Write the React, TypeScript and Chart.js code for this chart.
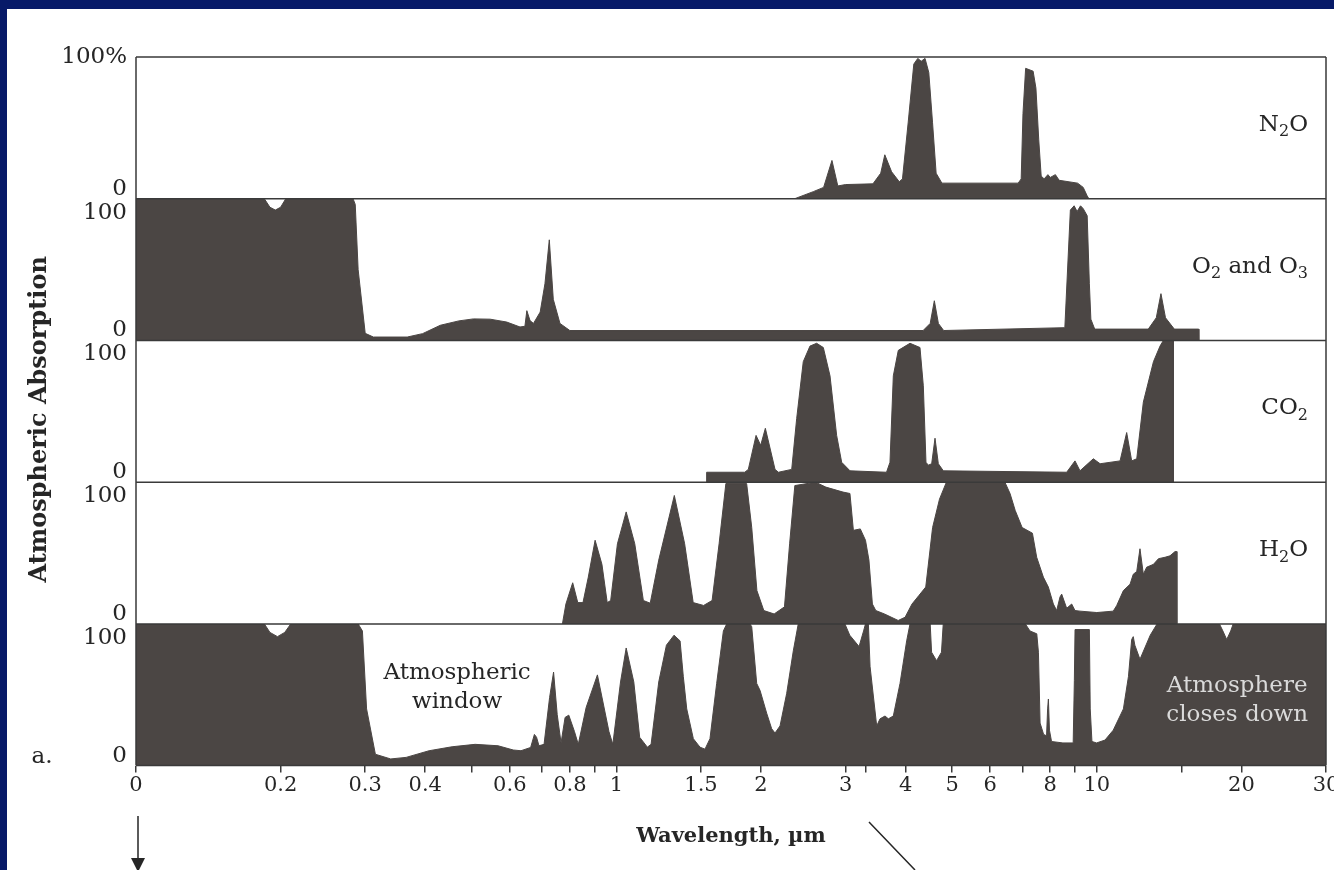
import React, { useEffect, useRef } from 'react';
import { Chart, registerables } from 'chart.js';

Chart.register(...registerables);

// ---------- x axis (wavelength, µm; logarithmic) ----------
const TICK_VALUES = [0.1, 0.2, 0.3, 0.4, 0.5, 0.6, 0.7, 0.8, 0.9, 1, 1.5, 2, 3, 3.3, 4, 5, 6, 7, 8, 9, 10, 15, 20, 30];
const TICK_LABELS = ['0', '0.2', '0.3', '0.4', '', '0.6', '', '0.8', '', '1', '1.5', '2', '3', '', '4', '5', '6', '', '8', '', '10', '', '20', '30'];

// ---------- N2O ----------
const N2O_WL = [2.35, 2.57, 2.7, 2.81, 2.89, 3.0, 3.42, 3.55, 3.62, 3.74, 3.88, 3.94, 4.05, 4.16, 4.24, 4.31, 4.39, 4.47, 4.55, 4.63, 4.76, 6.86, 6.96, 7.02, 7.11, 7.37, 7.47, 7.57, 7.66, 7.77, 7.91, 8.0, 8.2, 8.35, 9.12, 9.37, 9.55, 9.63];
const N2O_ABS = [0, 5, 8, 27, 9, 10, 10.5, 18, 31, 19, 12, 14, 54, 95, 99, 97, 99, 89, 54, 18, 11, 11, 14, 60, 92, 90, 78, 42, 16, 14, 17, 15, 17, 13, 11, 8, 2, 0];

// ---------- O2 and O3 ----------
const O3_WL = [0.1, 0.185, 0.19, 0.195, 0.2, 0.205, 0.283, 0.286, 0.29, 0.3, 0.312, 0.367, 0.395, 0.43, 0.47, 0.504, 0.546, 0.591, 0.63, 0.645, 0.651, 0.661, 0.672, 0.694, 0.71, 0.725, 0.739, 0.763, 0.8, 4.35, 4.5, 4.59, 4.68, 4.8, 8.58, 8.81, 8.97, 9.1, 9.25, 9.37, 9.55, 9.65, 9.72, 9.9, 12.8, 13.3, 13.6, 13.9, 14.5, 16.3, 16.31];
const O3_ABS = [100, 100, 94, 92, 94, 100, 100, 96, 50, 5, 2.4, 2.4, 4.8, 10.7, 13.8, 15.2, 15, 13, 9.5, 10, 21, 14, 12, 20, 40, 71, 29, 12, 7, 7, 12, 28, 12, 7, 9, 92, 95, 91, 95, 93, 88, 40, 15, 8, 8, 16, 33, 16, 8, 8, 0];

// ---------- CO2 ----------
const CO2_WL = [1.54, 1.541, 1.85, 1.882, 1.953, 1.997, 2.042, 2.139, 2.174, 2.317, 2.373, 2.449, 2.529, 2.611, 2.696, 2.784, 2.874, 2.944, 3.064, 3.65, 3.711, 3.771, 3.862, 4.085, 4.285, 4.354, 4.41, 4.46, 4.532, 4.605, 4.679, 4.792, 8.656, 9.008, 9.226, 9.835, 10.16, 11.18, 11.54, 11.82, 12.11, 12.5, 13.12, 13.54, 13.76, 14.31, 14.43, 14.44];
const CO2_ABS = [0, 7, 7, 9, 33, 26, 38, 9, 7, 9, 45, 85, 96, 98, 95, 75, 33, 14, 8, 7, 14, 75, 93, 98, 95, 68, 14, 12, 13, 31, 13, 8, 7, 15, 8, 16.5, 13, 15, 35, 15, 16.5, 56.5, 85, 96, 100, 100, 100, 0];

// ---------- H2O ----------
const H2O_WL = [0.772, 0.785, 0.811, 0.831, 0.852, 0.874, 0.903, 0.933, 0.957, 0.973, 1.005, 1.048, 1.092, 1.138, 1.176, 1.225, 1.32, 1.387, 1.445, 1.519, 1.582, 1.636, 1.69, 1.867, 1.913, 1.961, 2.027, 2.13, 2.238, 2.294, 2.352, 2.597, 2.729, 2.963, 3.063, 3.114, 3.219, 3.3, 3.355, 3.411, 3.467, 3.614, 3.86, 3.99, 4.124, 4.262, 4.405, 4.552, 4.705, 4.863, 6.437, 6.598, 6.764, 6.991, 7.345, 7.497, 7.74, 7.928, 8.12, 8.251, 8.384, 8.451, 8.656, 8.866, 9.008, 9.226, 10.0, 10.82, 11.0, 11.36, 11.73, 11.91, 12.11, 12.3, 12.5, 12.7, 13.12, 13.44, 13.87, 14.2, 14.55, 14.67, 14.68];
const H2O_ABS = [0, 14, 29, 15, 15, 33, 59, 42, 15, 16.5, 56.5, 79, 56.5, 16.5, 14.6, 45, 90.6, 56.5, 15, 13, 16.5, 56.5, 99, 99, 68, 23.5, 9.4, 7, 12, 56.5, 97.6, 100, 96.5, 93, 92, 66, 67, 59, 45, 14, 9.4, 7, 2.4, 4.7, 14, 20, 26, 68, 88, 100, 100, 92, 80, 68, 64, 47, 33, 26, 14, 9.4, 19, 21, 11, 14, 9.4, 9, 8, 9, 12.9, 23.5, 28, 35, 37, 53, 35, 40, 42, 46, 47, 48, 51, 51, 0];

// ---------- Total atmosphere ----------
const TOTAL_WL = [0.1, 0.185, 0.19, 0.197, 0.204, 0.21, 0.29, 0.296, 0.302, 0.315, 0.339, 0.365, 0.4075, 0.455, 0.508, 0.567, 0.61, 0.633, 0.663, 0.675, 0.682, 0.69, 0.707, 0.726, 0.74, 0.753, 0.767, 0.782, 0.796, 0.818, 0.833, 0.865, 0.913, 0.965, 0.983, 1.02, 1.048, 1.087, 1.118, 1.16, 1.181, 1.225, 1.271, 1.318, 1.357, 1.378, 1.401, 1.446, 1.493, 1.529, 1.566, 1.617, 1.67, 1.697, 1.897, 1.913, 1.959, 1.991, 2.055, 2.105, 2.139, 2.191, 2.262, 2.335, 2.391, 2.99, 3.06, 3.2, 3.27, 3.3, 3.346, 3.373, 3.482, 3.538, 3.624, 3.682, 3.771, 3.894, 4.02, 4.085, 4.5, 4.53, 4.64, 4.75, 4.79, 7.1, 7.26, 7.5, 7.56, 7.62, 7.75, 7.86, 7.9, 7.93, 7.97, 8.05, 8.5, 8.93, 8.98, 9.01, 9.65, 9.69, 9.77, 9.99, 10.4, 10.82, 11.36, 11.64, 11.82, 11.91, 12.0, 12.3, 12.92, 13.35, 18.0, 18.3, 18.64, 19.0, 19.23, 30];
const TOTAL_ABS = [100, 100, 94, 91, 94, 100, 100, 95, 40, 8, 4.7, 5.8, 10.5, 13.3, 15, 14, 11, 10.5, 12.8, 22, 20, 14, 15, 48, 66, 36, 16, 34, 35.6, 24, 15, 41, 64, 24, 15, 59, 83, 59, 20, 13, 15, 59, 85, 92, 88, 63, 40, 19, 13, 11.6, 19, 58, 95, 100, 100, 98, 58, 53, 37, 26, 23, 28, 51, 81, 100, 100, 92, 84, 95, 100, 100, 70, 28, 33, 35, 33, 35, 58, 88, 100, 100, 80, 74, 80, 100, 100, 95, 93, 80, 30, 22, 21, 40, 47, 25, 17, 16, 16, 60, 96, 96, 40, 17, 16, 18, 25, 40, 63, 89, 91, 85, 75, 92, 100, 100, 95, 89, 95, 100, 100];

// ---------- styling ----------
const NAVY = '#071a68';
const FILL = '#4b4644';
const INK = '#262626';
const FRAME = '#3a3a3a';
const SERIF = '"DejaVu Serif", "Liberation Serif", serif';

type Part = [string, boolean];

const PANEL_IDS = ['yN2O', 'yO3', 'yCO2', 'yH2O', 'yAll'];
const PANEL_NAMES: Part[][] = [
  [['N', false], ['2', true], ['O', false]],
  [['O', false], ['2', true], [' and O', false], ['3', true]],
  [['CO', false], ['2', true]],
  [['H', false], ['2', true], ['O', false]],
  [],
];

function series(wl: number[], abs: number[]) {
  return wl.map((x, i) => ({ x, y: abs[i] }));
}

function drawFormula(ctx: CanvasRenderingContext2D, parts: Part[], right: number, y: number, size: number) {
  const main = `${size}px ${SERIF}`;
  const sub = `${Math.round(size * 0.7)}px ${SERIF}`;
  let total = 0;
  parts.forEach(([t, s]) => {
    ctx.font = s ? sub : main;
    total += ctx.measureText(t).width;
  });
  let x = right - total;
  ctx.textAlign = 'left';
  ctx.textBaseline = 'middle';
  parts.forEach(([t, s]) => {
    ctx.font = s ? sub : main;
    ctx.fillText(t, x, s ? y + size * 0.32 : y);
    x += ctx.measureText(t).width;
  });
}

const overlay = {
  id: 'overlay',
  beforeDraw(chart: any) {
    const { ctx, width, height } = chart;
    ctx.save();
    ctx.fillStyle = NAVY;
    ctx.fillRect(0, 0, width, height);
    ctx.fillStyle = '#ffffff';
    ctx.fillRect(7, 9, width - 7, height - 9);
    ctx.restore();
  },
  afterDatasetsDraw(chart: any) {
    const { ctx, chartArea: a } = chart;
    ctx.save();
    ctx.strokeStyle = FRAME;
    ctx.lineWidth = 1.5;
    ctx.beginPath();
    PANEL_IDS.forEach((id) => {
      const s = chart.scales[id];
      const y = s.getPixelForValue(100);
      ctx.moveTo(a.left, y);
      ctx.lineTo(a.right, y);
    });
    ctx.moveTo(a.left, a.bottom);
    ctx.lineTo(a.right, a.bottom);
    ctx.moveTo(a.left, a.top);
    ctx.lineTo(a.left, a.bottom);
    ctx.moveTo(a.right, a.top);
    ctx.lineTo(a.right, a.bottom);
    ctx.stroke();
    ctx.restore();
  },
  afterDraw(chart: any) {
    const { ctx, chartArea: a } = chart;
    const xs = chart.scales.x;
    const all = chart.scales.yAll;
    ctx.save();
    ctx.fillStyle = INK;

    // y tick labels of each panel
    ctx.font = `23px ${SERIF}`;
    ctx.textAlign = 'right';
    ctx.textBaseline = 'middle';
    PANEL_IDS.forEach((id, i) => {
      const s = chart.scales[id];
      const top = s.getPixelForValue(100);
      const bot = s.getPixelForValue(0);
      ctx.fillText(i === 0 ? '100%' : '100', a.left - 9, i === 0 ? top : top + 14);
      ctx.fillText('0', a.left - 9, bot - 10);
    });

    // gas names
    PANEL_IDS.forEach((id, i) => {
      const parts = PANEL_NAMES[i];
      if (!parts.length) return;
      const s = chart.scales[id];
      const mid = (s.getPixelForValue(100) + s.getPixelForValue(0)) / 2;
      ctx.fillStyle = INK;
      drawFormula(ctx, parts, a.right - 18, mid - 3, 23);
    });

    // annotations in the total panel
    ctx.textAlign = 'center';
    ctx.textBaseline = 'middle';
    ctx.font = `23px ${SERIF}`;
    ctx.fillStyle = INK;
    const wx = xs.getPixelForValue(0.466);
    ctx.fillText('Atmospheric', wx, all.getPixelForValue(65));
    ctx.fillText('window', wx, all.getPixelForValue(45));
    ctx.fillStyle = '#dadada';
    const cx = xs.getPixelForValue(19.6);
    ctx.fillText('Atmosphere', cx, all.getPixelForValue(56));
    ctx.fillText('closes down', cx, all.getPixelForValue(36));

    // y-axis title
    ctx.fillStyle = INK;
    ctx.font = `bold 24px ${SERIF}`;
    ctx.save();
    ctx.translate(40, (a.top + a.bottom) / 2 + 8);
    ctx.rotate(-Math.PI / 2);
    ctx.fillText('Atmospheric Absorption', 0, 0);
    ctx.restore();

    // panel letter
    ctx.font = `23px ${SERIF}`;
    ctx.fillText('a.', 42, all.getPixelForValue(0) - 9);

    // arrows below the axis
    ctx.strokeStyle = INK;
    ctx.lineWidth = 1.5;
    const ax = xs.getPixelForValue(0.1) + 2;
    ctx.beginPath();
    ctx.moveTo(ax, 816);
    ctx.lineTo(ax, 862);
    ctx.moveTo(869, 822);
    ctx.lineTo(915, 870);
    ctx.stroke();
    ctx.beginPath();
    ctx.moveTo(ax - 7, 858);
    ctx.lineTo(ax + 7, 858);
    ctx.lineTo(ax, 872);
    ctx.closePath();
    ctx.fill();
    ctx.restore();
  },
};

function panelScale(weight: number) {
  return {
    type: 'linear' as const,
    position: 'left' as const,
    stack: 'panels',
    stackWeight: 1,
    weight,
    min: 0,
    max: 100,
    display: true,
    ticks: { display: false },
    grid: { display: false, drawTicks: false },
    border: { display: false },
  };
}

export default function App() {
  const ref = useRef<HTMLCanvasElement>(null);

  useEffect(() => {
    const canvas = ref.current;
    if (!canvas) return;
    const sets = [
      series(N2O_WL, N2O_ABS),
      series(O3_WL, O3_ABS),
      series(CO2_WL, CO2_ABS),
      series(H2O_WL, H2O_ABS),
      series(TOTAL_WL, TOTAL_ABS),
    ];
    const chart = new Chart(canvas, {
      type: 'line',
      data: {
        datasets: sets.map((d, i) => ({
          label: PANEL_IDS[i],
          data: d,
          yAxisID: PANEL_IDS[i],
          fill: 'origin',
          backgroundColor: FILL,
          borderColor: FILL,
          borderWidth: 1,
          pointRadius: 0,
          tension: 0,
        })),
      },
      options: {
        responsive: false,
        animation: false,
        devicePixelRatio: 1,
        events: [],
        layout: { padding: { left: 136, right: 8, top: 57, bottom: 21 } },
        plugins: { legend: { display: false }, tooltip: { enabled: false } },
        scales: {
          x: {
            type: 'logarithmic',
            position: 'bottom',
            min: 0.1,
            max: 30,
            afterBuildTicks: (axis: any) => {
              axis.ticks = TICK_VALUES.map((v) => ({ value: v }));
            },
            afterFit: (axis: any) => {
              axis.paddingLeft = 0;
              axis.paddingRight = 0;
            },
            ticks: {
              autoSkip: false,
              maxRotation: 0,
              padding: 0,
              color: INK,
              font: { family: SERIF, size: 21 },
              callback: (_v: any, i: number) => TICK_LABELS[i],
            },
            grid: {
              display: true,
              drawOnChartArea: false,
              drawTicks: true,
              tickLength: 7,
              color: FRAME,
              lineWidth: 1.5,
            },
            border: { display: false },
            title: {
              display: true,
              text: 'Wavelength, µm',
              color: INK,
              font: { family: SERIF, size: 21, weight: 'bold' },
              padding: { top: 26, bottom: 0 },
            },
          },
          yAll: panelScale(1),
          yH2O: panelScale(2),
          yCO2: panelScale(3),
          yO3: panelScale(4),
          yN2O: panelScale(5),
        },
      } as any,
      plugins: [overlay],
    });
    return () => chart.destroy();
  }, []);

  return (
    <div style={{ position: 'fixed', left: 0, top: 0, width: 1334, height: 870 }}>
      <canvas ref={ref} width={1334} height={870} style={{ display: 'block', width: 1334, height: 870 }} />
    </div>
  );
}
